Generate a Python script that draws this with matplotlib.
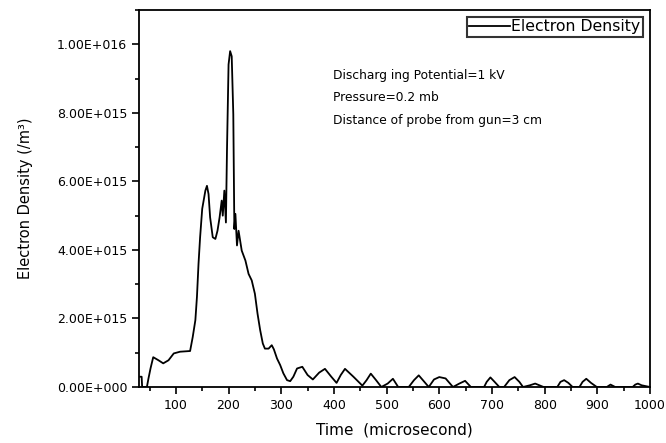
import numpy as np
import matplotlib
matplotlib.use("Agg")
import matplotlib.pyplot as plt
from matplotlib.ticker import MultipleLocator, FuncFormatter

# time in microseconds, density in units of 1e15 /m^3
time = [30, 35, 36, 45, 48, 52, 57, 67, 76, 86, 96, 108, 127, 132, 137, 140, 143,
        146, 150, 156, 159, 162, 165, 170, 175, 179, 183, 187, 189, 192, 195, 197,
        200, 203, 206, 209, 211, 213, 216, 219, 225, 232, 238, 244, 250, 255, 260,
        265, 269, 276, 282, 286, 292, 298, 304, 311, 317, 323, 330, 340, 350, 360,
        372, 383, 395, 405, 413, 421, 437, 454, 462, 470, 480, 490, 502, 512, 522,
        542, 552, 561, 570, 580, 590, 600, 612, 626, 638, 649, 660, 685, 690, 697,
        705, 714, 723, 733, 743, 752, 759, 772, 782, 790, 798, 824, 830, 837, 845,
        853, 866, 872, 879, 888, 899, 918, 925, 934, 967, 972, 977, 984, 1000]
density_e15 = [0.3, 0.3, 0.0, 0.0, 0.25, 0.55, 0.87, 0.78, 0.69, 0.78, 0.98, 1.03,
               1.05, 1.46, 1.95, 2.63, 3.6, 4.37, 5.2, 5.73, 5.87, 5.63, 4.95, 4.37,
               4.32, 4.56, 4.95, 5.44, 5.0, 5.73, 4.8, 6.89, 9.41, 9.8, 9.65, 7.96,
               4.61, 5.05, 4.13, 4.56, 3.98, 3.69, 3.3, 3.11, 2.72, 2.14, 1.66, 1.27,
               1.12, 1.12, 1.22, 1.1, 0.83, 0.64, 0.4, 0.2, 0.17, 0.3, 0.54, 0.59,
               0.35, 0.22, 0.42, 0.53, 0.3, 0.12, 0.35, 0.53, 0.3, 0.04, 0.2, 0.39,
               0.2, 0.0, 0.1, 0.24, 0.0, 0.0, 0.2, 0.34, 0.18, 0.0, 0.22, 0.29, 0.25,
               0.0, 0.1, 0.18, 0.0, 0.0, 0.15, 0.28, 0.15, 0.0, 0.0, 0.2, 0.29, 0.15,
               0.0, 0.05, 0.1, 0.05, 0.0, 0.0, 0.15, 0.2, 0.12, 0.0, 0.0, 0.15, 0.24,
               0.12, 0.0, 0.0, 0.07, 0.0, 0.0, 0.07, 0.1, 0.05, 0.0]
density = np.array(density_e15) * 1e15

notes = ["Discharg ing Potential=1 kV",
         "Pressure=0.2 mb",
         "Distance of probe from gun=3 cm"]

plt.rcParams['font.family'] = ['DejaVu Sans']

fig = plt.figure(figsize=(6.66, 4.43), dpi=100)
ax = fig.add_axes([0.2087, 0.1264, 0.7673, 0.851])

ax.plot(time, density, color='black', lw=1.3, label='Electron Density')

ax.set_xlim(30, 1000)
ax.set_ylim(0, 1.1e16)
ax.xaxis.set_major_locator(MultipleLocator(100))
ax.xaxis.set_minor_locator(MultipleLocator(50))
ax.yaxis.set_major_locator(MultipleLocator(2e15))
ax.yaxis.set_minor_locator(MultipleLocator(1e15))


def sci(v, pos):
    if v == 0:
        return "0.00E+000"
    e = int(np.floor(np.log10(abs(v))))
    return "%.2fE+%03d" % (v / 10**e, e)


ax.yaxis.set_major_formatter(FuncFormatter(sci))
ax.tick_params(which='both', direction='out', top=False, right=False,
               labelsize=9, width=1.2)
ax.tick_params(which='major', length=5)
ax.tick_params(which='minor', length=3)
for s in ax.spines.values():
    s.set_linewidth(1.3)

ax.set_xlabel('Time  (microsecond)', fontsize=11, labelpad=8)
ax.set_ylabel('Electron Density (/m³)', fontsize=10.5, labelpad=17)

for i, t in enumerate(notes):
    ax.text(0.38, 0.826 - i * 0.059, t, transform=ax.transAxes,
            fontsize=8.8, va='center', ha='left')

leg = ax.legend(loc='upper right', fontsize=11.3, frameon=True, fancybox=False,
                handlelength=2.6, handletextpad=0.1, borderpad=0.15,
                borderaxespad=0.45)
leg.get_frame().set_edgecolor('black')
leg.get_frame().set_linewidth(1.5)

fig.savefig('out.png', dpi=100)
